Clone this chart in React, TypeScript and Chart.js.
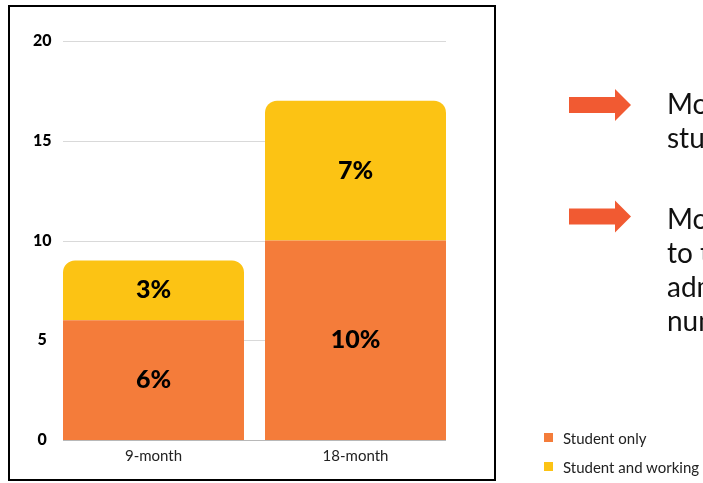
import { useEffect, useRef } from 'react';
import { Chart, registerables } from 'chart.js';

Chart.register(...registerables);

const categories = ['9-month', '18-month'];
const studentOnly = [6, 10];
const studentWorking = [3, 7];
const seriesNames = ['Student only', 'Student and working'];
const seriesColors = ['#F47C3A', '#FCC314'];
const yTicks = [0, 5, 10, 15, 20];
const noteBlocks = [
  ['More 18-month', 'students working'],
  ['More support needed', 'to tackle and', 'admit a larger', 'number of students'],
];

const gridPlugin = {
  id: 'customGrid',
  beforeDatasetsDraw(chart: any) {
    const meta = chart.getDatasetMeta(0);
    const els = meta.data;
    if (!els.length) return;
    const first = els[0];
    const last = els[els.length - 1];
    const x0 = first.x - first.width / 2;
    const x1 = last.x + last.width / 2;
    const ctx = chart.ctx;
    const ys = chart.scales.y;
    ctx.save();
    ctx.lineWidth = 1;
    yTicks.forEach((v) => {
      const y = Math.round(ys.getPixelForValue(v)) + 0.5;
      ctx.strokeStyle = v === 0 ? '#B8B8B8' : '#D9D9D9';
      ctx.beginPath();
      ctx.moveTo(x0, y);
      ctx.lineTo(x1, y);
      ctx.stroke();
    });
    ctx.restore();
  },
};

const labelPlugin = {
  id: 'segLabels',
  afterDatasetsDraw(chart: any) {
    const ctx = chart.ctx;
    ctx.save();
    ctx.fillStyle = '#000';
    ctx.font = '900 25px Lato';
    ctx.textAlign = 'center';
    ctx.textBaseline = 'middle';
    chart.data.datasets.forEach((ds: any, i: number) => {
      const meta = chart.getDatasetMeta(i);
      meta.data.forEach((el: any, j: number) => {
        const { x, y, base } = el.getProps(['x', 'y', 'base'], true);
        ctx.fillText(ds.data[j] + '%', x, (y + base) / 2);
      });
    });
    ctx.restore();
  },
};

function ChartBox() {
  const ref = useRef<HTMLCanvasElement>(null);
  useEffect(() => {
    let chart: Chart | null = null;
    let cancelled = false;
    const build = () => {
      if (cancelled || !ref.current) return;
      chart = new Chart(ref.current, {
        type: 'bar',
        data: {
          labels: categories,
          datasets: [
            {
              label: seriesNames[0],
              data: studentOnly,
              backgroundColor: seriesColors[0],
              barPercentage: 0.896,
              categoryPercentage: 1,
              borderRadius: 0,
            },
            {
              label: seriesNames[1],
              data: studentWorking,
              backgroundColor: seriesColors[1],
              barPercentage: 0.896,
              categoryPercentage: 1,
              borderRadius: { topLeft: 12, topRight: 12, bottomLeft: 0, bottomRight: 0 },
            },
          ],
        },
        options: {
          animation: false,
          responsive: false,
          maintainAspectRatio: false,
          layout: { padding: { top: 34, right: 37.5, bottom: 0, left: 0 } },
          scales: {
            x: {
              stacked: true,
              grid: { display: false, drawTicks: false },
              border: { display: false },
              ticks: { font: { family: 'Lato', size: 15 }, color: '#222', padding: 7 },
              afterFit: (s: any) => {
                s.height = 39;
              },
            },
            y: {
              stacked: true,
              min: 0,
              max: 20,
              grid: { display: false, drawTicks: false },
              border: { display: false },
              ticks: {
                stepSize: 5,
                font: { family: 'Lato', size: 16, weight: '900' },
                color: '#000',
                padding: 1,
                crossAlign: 'center',
              },
              afterFit: (s: any) => {
                s.width = 42.5;
              },
            },
          },
          plugins: { legend: { display: false }, tooltip: { enabled: false } },
        } as any,
        plugins: [gridPlugin, labelPlugin],
      });
    };
    const fonts = (document as any).fonts;
    if (fonts && fonts.load) {
      Promise.all([
        fonts.load('900 25px Lato'),
        fonts.load('900 16px Lato'),
        fonts.load('15px Lato'),
      ])
        .then(build)
        .catch(build);
    } else {
      build();
    }
    return () => {
      cancelled = true;
      if (chart) chart.destroy();
    };
  }, []);
  return <canvas ref={ref} width={484} height={472} style={{ display: 'block', width: 484, height: 472 }} />;
}

function Arrow({ cy }: { cy: number }) {
  const pts = [
    [569, cy - 8],
    [615, cy - 8],
    [615, cy - 16],
    [631, cy],
    [615, cy + 16],
    [615, cy + 8],
    [569, cy + 8],
  ]
    .map((p) => p.join(','))
    .join(' ');
  return <polygon points={pts} fill="#F15A32" />;
}

export default function App() {
  return (
    <div
      style={{
        position: 'fixed',
        left: 0,
        top: 0,
        width: 703,
        height: 483,
        overflow: 'hidden',
        background: '#fff',
        fontFamily: 'Lato, sans-serif',
      }}
    >
      <div
        style={{
          position: 'absolute',
          left: 8,
          top: 5,
          width: 488,
          height: 476,
          border: '2px solid #000',
          boxSizing: 'border-box',
        }}
      >
        <ChartBox />
      </div>
      <svg width={703} height={483} style={{ position: 'absolute', left: 0, top: 0 }}>
        <Arrow cy={105} />
        <Arrow cy={216.5} />
      </svg>
      {noteBlocks.map((lines, bi) => (
        <div
          key={bi}
          style={{
            position: 'absolute',
            left: 667,
            top: bi === 0 ? 86 : 201,
            fontSize: 28,
            lineHeight: '34px',
            color: '#111',
            whiteSpace: 'nowrap',
          }}
        >
          {lines.map((l, li) => (
            <div key={li}>{l}</div>
          ))}
        </div>
      ))}
      <div style={{ position: 'absolute', left: 544, top: 423, fontSize: 15, color: '#222' }}>
        {seriesNames.map((n, i) => (
          <div key={n} style={{ display: 'flex', alignItems: 'center', height: 29 }}>
            <span style={{ width: 9, height: 9, background: seriesColors[i], display: 'inline-block', marginRight: 10 }} />
            <span style={{ whiteSpace: 'nowrap' }}>{n}</span>
          </div>
        ))}
      </div>
    </div>
  );
}
